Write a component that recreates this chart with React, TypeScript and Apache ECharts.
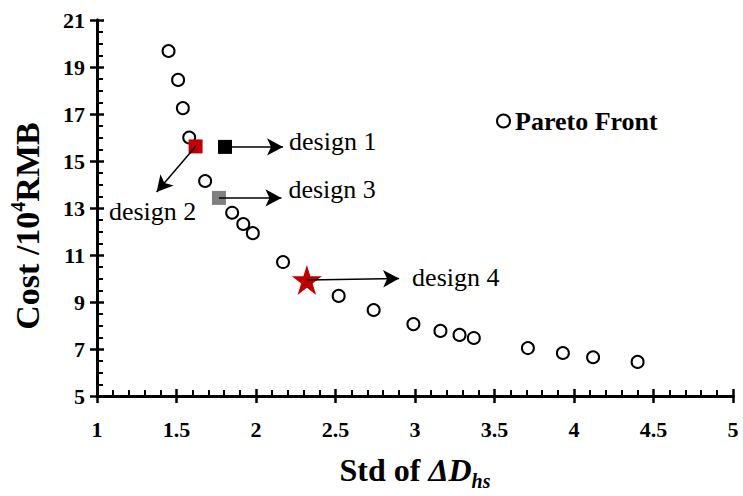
import React, { useEffect, useRef } from "react";
import * as echarts from "echarts";

const paretoX = [1.45, 1.51, 1.54, 1.58, 1.68, 1.85, 1.92, 1.98, 2.17, 2.52, 2.74, 2.99, 3.16, 3.28, 3.37, 3.71, 3.93, 4.12, 4.4];
const paretoY = [19.68, 18.45, 17.25, 16.0, 14.15, 12.8, 12.32, 11.93, 10.7, 9.26, 8.66, 8.06, 7.77, 7.6, 7.47, 7.04, 6.83, 6.65, 6.45];

const designNames = ["design 1", "design 2", "design 3", "design 4"];
const designX = [1.805, 1.62, 1.767, 2.32];
const designY = [15.6, 15.62, 13.43, 9.94];
const arrowEndX = [2.17, 1.375, 2.16, 2.9];
const arrowEndY = [15.6, 13.68, 13.43, 10.0];

const xMin = 1, xMax = 5, xStep = 0.5;
const yMin = 5, yMax = 21, yStep = 2;

const FONT = "Liberation Serif";
const STAR = "path://M50,0 L61.2,34.5 L97.6,34.5 L68.2,55.9 L79.4,90.5 L50,69.1 L20.6,90.5 L31.8,55.9 L2.4,34.5 L38.8,34.5 Z";

const designStyle = [
  { symbol: "rect", size: 14, color: "#000000" },
  { symbol: "rect", size: 14, color: "#c00000" },
  { symbol: "rect", size: 14, color: "#808080" },
  { symbol: STAR, size: 30, color: "#c00000" },
];
const labelStyle = [
  { position: "right", distance: 6, offset: [0, -5] },
  { position: "bottom", distance: 6, offset: [-4, 0] },
  { position: "right", distance: 7, offset: [0, -8] },
  { position: "right", distance: 13, offset: [0, -1] },
];

const AX = "#000000";
const mkLine = () => ({ show: true, onZero: false, lineStyle: { color: AX, width: 3 } });
const mkTick = (inside: boolean) => ({ show: true, inside, length: 7, lineStyle: { color: AX, width: 2.5 } });

export default function App() {
  const ref = useRef<HTMLDivElement>(null);
  useEffect(() => {
    const chart = echarts.init(ref.current!, null, { renderer: "svg" });
    const option: any = {
      animation: false,
      backgroundColor: "#fff",
      grid: { left: 97, right: 10, top: 20, bottom: 99 },
      legend: {
        data: ["Pareto Front"],
        left: 491,
        top: 103,
        itemWidth: 13,
        itemHeight: 13,
        itemGap: 4,
        textStyle: { fontFamily: FONT, fontWeight: "bold", fontSize: 26, color: "#000" },
      },
      xAxis: [
        {
          type: "value", min: xMin, max: xMax, interval: xStep,
          axisLine: mkLine(),
          axisTick: mkTick(true),
          minorTick: { show: true, splitNumber: 5, length: 6, lineStyle: { color: AX, width: 2 } },
          splitLine: { show: false },
          axisLabel: { fontFamily: FONT, fontWeight: "bold", fontSize: 22, color: "#000", margin: 22 },
          name: "{b|Std of }{i|ΔD}{s|hs}",
          nameLocation: "middle",
          nameGap: 53,
          nameTextStyle: {
            rich: {
              b: { fontFamily: FONT, fontWeight: "bold", fontSize: 32, color: "#000", lineHeight: 36 },
              i: { fontFamily: FONT, fontWeight: "bold", fontStyle: "italic", fontSize: 32, color: "#000", lineHeight: 36 },
              s: { fontFamily: FONT, fontWeight: "bold", fontStyle: "italic", fontSize: 20, color: "#000", verticalAlign: "bottom", lineHeight: 42 },
            },
          },
        },
        {
          type: "value", min: xMin, max: xMax, interval: xStep, position: "bottom",
          axisLine: mkLine(),
          axisTick: mkTick(false),
          splitLine: { show: false },
          axisLabel: { show: false },
        },
      ],
      yAxis: [
        {
          type: "value", min: yMin, max: yMax, interval: yStep,
          axisLine: mkLine(),
          axisTick: mkTick(true),
          minorTick: { show: true, splitNumber: 4, length: 6, lineStyle: { color: AX, width: 2 } },
          splitLine: { show: false },
          axisLabel: { fontFamily: FONT, fontWeight: "bold", fontSize: 22, color: "#000", margin: 12 },
        },
        {
          type: "value", min: yMin, max: yMax, interval: yStep, position: "left",
          axisLine: mkLine(),
          axisTick: mkTick(false),
          splitLine: { show: false },
          axisLabel: { show: false },
        },
      ],
      graphic: [
        {
          type: "text", x: 27, y: 226, rotation: Math.PI / 2,
          style: {
            text: "{a|Cost /10}{p|4}{a|RMB}", align: "center", verticalAlign: "middle",
            rich: {
              a: { fontFamily: FONT, fontWeight: "bold", fontSize: 34, fill: "#000", lineHeight: 38 },
              p: { fontFamily: FONT, fontWeight: "bold", fontSize: 20, fill: "#000", verticalAlign: "top", lineHeight: 30 },
            },
          },
        },
      ],
      series: [
        {
          name: "arrows", type: "scatter", data: [], z: 1,
          markLine: {
            silent: true, symbol: ["none", "arrow"], symbolSize: [13, 16],
            label: { show: false },
            lineStyle: { color: "#000", width: 1.5, type: "solid", opacity: 1 },
            emphasis: { disabled: true },
            data: designNames.map((_, i) => [
              { coord: [designX[i], designY[i]] },
              { coord: [arrowEndX[i], arrowEndY[i]] },
            ]),
          },
        },
        {
          name: "Pareto Front", type: "scatter", symbol: "circle", symbolSize: 12,
          itemStyle: { color: "#fff", borderColor: "#000", borderWidth: 2, opacity: 1 },
          data: paretoX.map((x, i) => [x, paretoY[i]]), z: 3,
        },
        {
          name: "designs", type: "scatter", z: 4,
          data: designNames.map((n, i) => ({
            value: [designX[i], designY[i]],
            symbol: designStyle[i].symbol,
            symbolSize: designStyle[i].size,
            itemStyle: { color: designStyle[i].color, opacity: 1 },
          })),
        },
        {
          name: "labels", type: "scatter", symbolSize: 0, z: 5,
          itemStyle: { opacity: 1 },
          data: designNames.map((n, i) => ({
            value: [arrowEndX[i], arrowEndY[i]],
            name: n,
            label: {
              show: true, formatter: n,
              position: labelStyle[i].position, distance: labelStyle[i].distance, offset: labelStyle[i].offset,
              fontFamily: FONT, fontSize: 26, color: "#000",
            },
          })),
        },
      ],
    };
    chart.setOption(option);
    return () => chart.dispose();
  }, []);
  return <div ref={ref} style={{ position: "fixed", left: 0, top: 0, width: 743, height: 496 }} />;
}
